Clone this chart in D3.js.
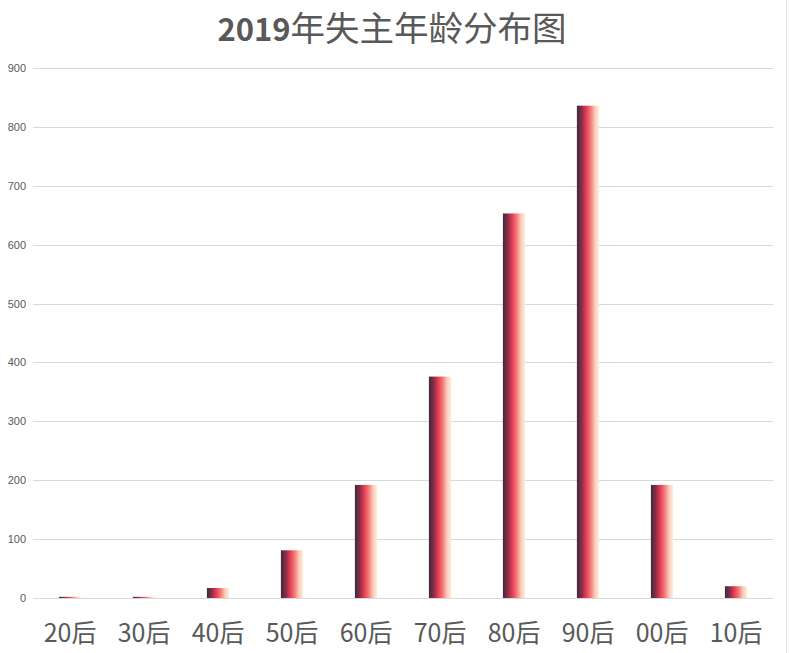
<!DOCTYPE html>
<html><head><meta charset="utf-8">
<script src="https://cdn.jsdelivr.net/npm/d3@7"></script>
<style>html,body{margin:0;padding:0;background:#fff;}svg{display:block;}</style>
</head><body>
<svg id="c" width="789" height="653"></svg>
<script>
const categories = ["20后","30后","40后","50后","60后","70后","80后","90后","00后","10后"];
const values = [2, 2, 17, 81, 192, 376, 653, 836, 192, 20];
const yTicks = [0,100,200,300,400,500,600,700,800,900];
const titleNum = "2019";
const titleText = "年失主年龄分布图";

const W = 789, H = 653;
const m = {left: 33, right: 16, top: 68, bottom: 55};
const svg = d3.select("#c");

const defs = svg.append("defs");
const grad = defs.append("linearGradient").attr("id","barGrad")
  .attr("x1","0%").attr("x2","100%").attr("y1","0%").attr("y2","0%");
[[0,"#3a2b3e"],[0.22,"#8a2d47"],[0.42,"#e53d52"],[0.62,"#f27a7a"],[0.82,"#fbcdb9"],[1,"#fdeedd"]]
  .forEach(([o,c]) => grad.append("stop").attr("offset",o).attr("stop-color",c));

const x = d3.scaleBand().domain(categories).range([m.left, W - m.right]).paddingInner(0.7).paddingOuter(0.35);
const y = d3.scaleLinear().domain([0, 900]).range([H - m.bottom, m.top]);

// gridlines
svg.append("g").selectAll("line").data(yTicks).join("line")
  .attr("x1", m.left).attr("x2", W - m.right)
  .attr("y1", d => Math.round(y(d)) + 0.5).attr("y2", d => Math.round(y(d)) + 0.5)
  .attr("stroke", "#d9d9d9").attr("stroke-width", 1);

// y axis labels
const yAxis = svg.append("g").attr("transform", `translate(${m.left - 7},0)`)
  .call(d3.axisLeft(y).tickValues(yTicks).tickSize(0).tickPadding(0));
yAxis.select(".domain").remove();
yAxis.selectAll("text").attr("font-family","'Liberation Sans Narrow','Liberation Sans',sans-serif")
  .attr("font-size", 11).attr("fill", "#595959");

// bars
svg.append("g").selectAll("rect").data(values).join("rect")
  .attr("x", (d,i) => x(categories[i]))
  .attr("width", x.bandwidth())
  .attr("y", d => y(d))
  .attr("height", d => y(0) - y(d))
  .attr("fill", "url(#barGrad)");

// x axis labels
const xAxis = svg.append("g").attr("transform", `translate(0,${H - m.bottom})`)
  .call(d3.axisBottom(x).tickSize(0).tickPadding(0));
xAxis.select(".domain").remove();
xAxis.selectAll("text").attr("dy", null).attr("y", 44)
  .attr("font-family","'Noto Sans CJK SC',sans-serif")
  .attr("font-size", 25).attr("fill", "#595959");

// right border
svg.append("line").attr("x1", 786.5).attr("x2", 786.5).attr("y1", 0).attr("y2", H)
  .attr("stroke", "#e3e3e3");

// title
const t = svg.append("text").attr("x", 392).attr("y", 41).attr("text-anchor","middle")
  .attr("fill", "#595959").attr("font-family","'Noto Sans CJK SC',sans-serif");
t.append("tspan").text(titleNum).attr("font-weight","bold").attr("font-size", 31);
t.append("tspan").text(titleText).attr("font-size", 34.5);
</script>
</body></html>
